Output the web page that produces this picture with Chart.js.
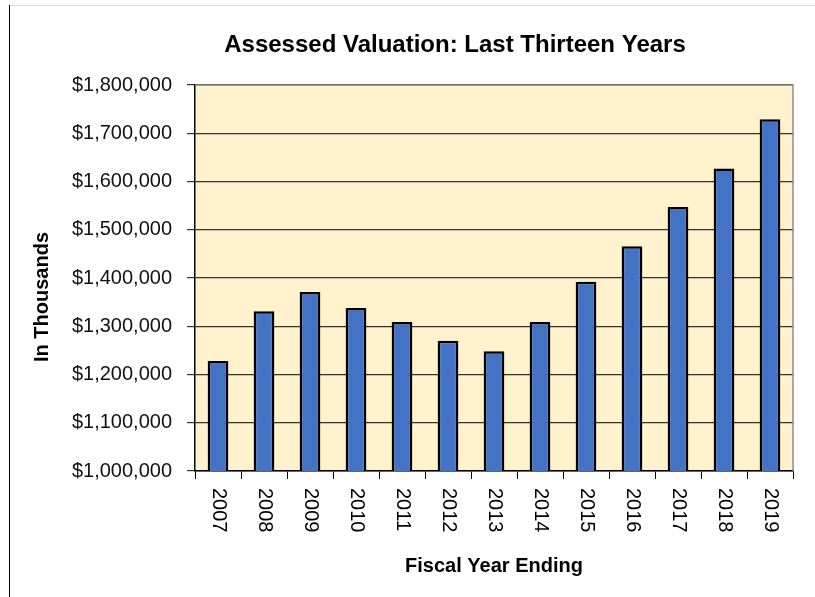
<!DOCTYPE html>
<html>
<head>
<meta charset="utf-8">
<script src="https://cdn.jsdelivr.net/npm/chart.js@4.4.0/dist/chart.umd.min.js"></script>
<style>
    body { margin: 0; background: #fff; }
    #wrap { width: 815px; height: 597px; }
</style>
</head>
<body>
<div id="wrap"><canvas id="grafico" width="815" height="597"></canvas></div>
<script>
// dados
const anos = ['2007', '2008', '2009', '2010', '2011', '2012', '2013',
              '2014', '2015', '2016', '2017', '2018', '2019'];
const valores = [1228000, 1331000, 1371000, 1338000, 1309000, 1270000, 1248000,
                 1309000, 1392000, 1466000, 1547000, 1627000, 1729000];
const eixoMin = 1000000;
const eixoMax = 1800000;
const passo = 100000;

const titulo = 'Assessed Valuation: Last Thirteen Years';
const tituloY = 'In Thousands';
const tituloX = 'Fiscal Year Ending';

const fonte = '"Liberation Sans", Arial, sans-serif';

// fundo, moldura, titulos e rotulos dos anos
const decoracao = {
    id: 'decoracao',
    beforeDraw(chart) {
        const ctx = chart.ctx;
        const a = chart.chartArea;
        ctx.save();
        ctx.fillStyle = '#fff';
        ctx.fillRect(0, 0, chart.width, chart.height);
        ctx.fillStyle = '#FFF2CC';
        ctx.fillRect(a.left, a.top, a.right - a.left, a.bottom - a.top);
        // moldura externa
        ctx.strokeStyle = '#dcdcdc';
        ctx.lineWidth = 1;
        ctx.beginPath();
        ctx.moveTo(9, 5.5);
        ctx.lineTo(chart.width, 5.5);
        ctx.stroke();
        ctx.strokeStyle = '#000';
        ctx.beginPath();
        ctx.moveTo(9.5, 5);
        ctx.lineTo(9.5, chart.height);
        ctx.stroke();
        ctx.restore();
    },
    afterDraw(chart) {
        const ctx = chart.ctx;
        const a = chart.chartArea;
        const x = chart.scales.x;
        ctx.save();
        // borda superior e direita
        ctx.strokeStyle = '#8c8c8c';
        ctx.lineWidth = 1.5;
        ctx.beginPath();
        ctx.moveTo(a.left, a.top);
        ctx.lineTo(a.right, a.top);
        ctx.lineTo(a.right, a.bottom);
        ctx.stroke();

        // titulo
        ctx.fillStyle = '#000';
        ctx.font = 'bold 24px ' + fonte;
        ctx.textAlign = 'center';
        ctx.textBaseline = 'alphabetic';
        ctx.fillText(titulo, 455, 52);

        // titulo do eixo y
        ctx.save();
        ctx.translate(42, 297);
        ctx.rotate(-Math.PI / 2);
        ctx.font = 'bold 20px ' + fonte;
        ctx.textBaseline = 'middle';
        ctx.fillText(tituloY, 0, 0);
        ctx.restore();

        // anos, lidos de cima para baixo
        ctx.font = '20px ' + fonte;
        ctx.textAlign = 'left';
        ctx.textBaseline = 'middle';
        anos.forEach((ano, i) => {
            ctx.save();
            ctx.translate(x.getPixelForValue(i) + 1, a.bottom + 17);
            ctx.rotate(Math.PI / 2);
            ctx.fillText(ano, 0, 0);
            ctx.restore();
        });
        ctx.restore();
    }
};

function gerarGrafico() {
    const config = {
        type: 'bar',
        data: {
            labels: anos,
            datasets: [{
                data: valores,
                backgroundColor: '#4472C4',
                borderColor: '#000',
                borderWidth: 2.5,
                categoryPercentage: 1,
                barPercentage: 0.45
            }]
        },
        options: {
            responsive: false,
            animation: false,
            layout: { padding: { left: 0, right: 22, top: 85, bottom: 0 } },
            plugins: {
                legend: { display: false },
                tooltip: { enabled: false },
                title: { display: false }
            },
            scales: {
                x: {
                    offset: true,
                    grid: {
                        offset: true,
                        drawOnChartArea: false,
                        drawTicks: true,
                        tickLength: 8,
                        color: '#000'
                    },
                    border: { color: '#000', width: 1.5 },
                    ticks: { display: false },
                    title: {
                        display: true,
                        text: tituloX,
                        color: '#000',
                        font: { family: fonte, size: 20, weight: 'bold' },
                        padding: { top: 0, bottom: 19 }
                    },
                    afterFit(scale) { scale.height = 126; }
                },
                y: {
                    min: eixoMin,
                    max: eixoMax,
                    grid: {
                        color: '#333',
                        lineWidth: 1.2,
                        tickLength: 8
                    },
                    border: { color: '#000', width: 1.5 },
                    ticks: {
                        stepSize: passo,
                        padding: 15,
                        color: '#111',
                        font: { family: fonte, size: 20 },
                        callback: v => '$' + v.toLocaleString('en-US')
                    },
                    afterFit(scale) { scale.width = 195; }
                }
            }
        },
        plugins: [decoracao]
    };

    const ctx = document.getElementById('grafico').getContext('2d');
    window.graficoBarras = new Chart(ctx, config);
}

gerarGrafico();
</script>
</body>
</html>
